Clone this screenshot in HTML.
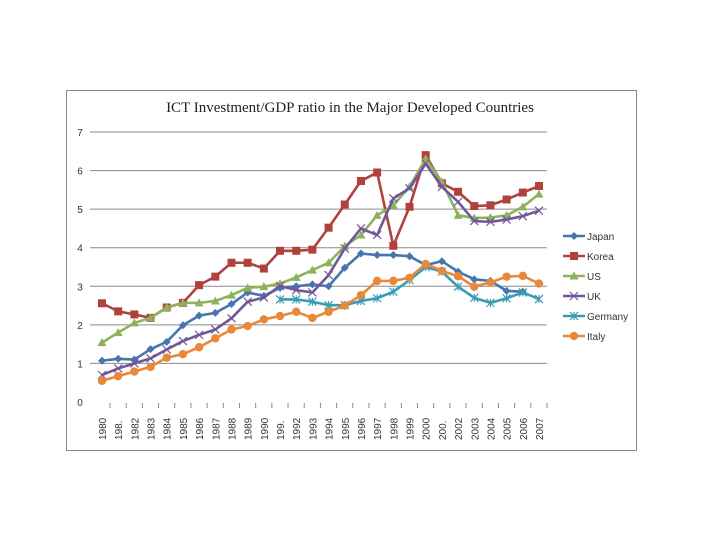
<!DOCTYPE html>
<html><head><meta charset="utf-8"><style>
body{margin:0;background:#fff;}
svg{display:block;font-family:"Liberation Sans",sans-serif;}
</style></head><body>
<svg id="chart" width="720" height="540">
<rect x="66.5" y="90.5" width="570" height="360" fill="#fff" stroke="#888" stroke-width="1"/>
<text x="350" y="112" text-anchor="middle" font-family="Liberation Serif, serif" font-size="15" fill="#222">ICT Investment/GDP ratio in the Major Developed Countries</text>
<g id="grid"></g><g id="axes"></g><g id="series"></g><g id="legend"></g>
</svg>
<script>
const years=[1980,1981,1982,1983,1984,1985,1986,1987,1988,1989,1990,1991,1992,1993,1994,1995,1996,1997,1998,1999,2000,2001,2002,2003,2004,2005,2006,2007];
const yearLabels=["1980","198.","1982","1983","1984","1985","1986","1987","1988","1989","1990","199.","1992","1993","1994","1995","1996","1997","1998","1999","2000","200.","2002","2003","2004","2005","2006","2007"];
const yTicks=[0,1,2,3,4,5,6,7];
const japan=[1.07,1.12,1.1,1.37,1.56,1.99,2.24,2.31,2.54,2.84,2.75,2.96,3.0,3.05,3.0,3.48,3.85,3.81,3.81,3.78,3.55,3.65,3.38,3.18,3.14,2.88,2.86,null];
const korea=[2.56,2.35,2.27,2.18,2.45,2.57,3.03,3.25,3.61,3.61,3.46,3.92,3.92,3.95,4.52,5.12,5.73,5.95,4.05,5.06,6.4,5.67,5.45,5.08,5.1,5.25,5.43,5.6];
const us=[1.54,1.8,2.05,2.18,2.45,2.57,2.57,2.62,2.77,2.96,2.99,3.07,3.23,3.42,3.61,4.04,4.33,4.84,5.1,5.58,6.31,5.71,4.84,4.77,4.78,4.84,5.06,5.39];
const uk=[0.7,0.87,1.0,1.13,1.36,1.58,1.74,1.88,2.17,2.6,2.71,3.01,2.9,2.84,3.29,3.98,4.5,4.33,5.28,5.54,6.18,5.58,5.19,4.69,4.67,4.73,4.82,4.96];
const germany=[null,null,null,null,null,null,null,null,null,null,null,2.66,2.66,2.6,2.51,2.51,2.62,2.69,2.86,3.16,3.5,3.38,2.99,2.7,2.57,2.69,2.84,2.67];
const italy=[0.55,0.67,0.79,0.91,1.15,1.24,1.42,1.65,1.88,1.97,2.14,2.23,2.34,2.18,2.34,2.5,2.77,3.14,3.14,3.22,3.58,3.4,3.26,2.99,3.1,3.25,3.27,3.07];

const NS="http://www.w3.org/2000/svg";
const x0=102,x1=539,yb=402,yt=132;
const xs=i=>x0+(x1-x0)*i/(years.length-1);
const ys=v=>yb-(yb-yt)*v/7;
function mk(tag,attrs,parent){const e=document.createElementNS(NS,tag);for(const k in attrs)e.setAttribute(k,attrs[k]);parent.appendChild(e);return e;}
const grid=document.getElementById('grid'),axes=document.getElementById('axes'),ser=document.getElementById('series'),leg=document.getElementById('legend');
yTicks.forEach(t=>{
  if(t>0){const l=mk('line',{x1:90,x2:547,y1:ys(t),y2:ys(t),stroke:'#8a8a8a','stroke-width':1},grid);
  
  }
  const tx=mk('text',{x:80,y:ys(t)+4,'font-size':10,fill:'#333','text-anchor':'middle'},axes);tx.textContent=t;
  
  
});
years.forEach((y,i)=>{
  const tk=mk('line',{x1:xs(i)+8,x2:xs(i)+8,y1:403,y2:408,stroke:'#888','stroke-width':1},axes);
  
  
  const tx=mk('text',{transform:`translate(${xs(i)+4},440) rotate(-90)`,'font-size':10,fill:'#333'},axes);tx.textContent=yearLabels[i];
  
  
});
function marker(type,x,y,c,g){
  let m;
  if(type==='diamond')m=mk('polygon',{points:`${x},${y-4} ${x+4},${y} ${x},${y+4} ${x-4},${y}`,fill:c},g);
  else if(type==='square')m=mk('rect',{x:x-4,y:y-4,width:8,height:8,fill:c},g);
  else if(type==='triangle')m=mk('polygon',{points:`${x},${y-4.5} ${x+4.5},${y+3.5} ${x-4.5},${y+3.5}`,fill:c},g);
  else if(type==='x')m=mk('path',{d:`M${x-4} ${y-4}L${x+4} ${y+4}M${x-4} ${y+4}L${x+4} ${y-4}`,stroke:c,'stroke-width':1.2},g);
  else if(type==='star')m=mk('path',{d:`M${x-4} ${y-4}L${x+4} ${y+4}M${x-4} ${y+4}L${x+4} ${y-4}M${x} ${y-4}L${x} ${y+4}`,stroke:c,'stroke-width':1.2},g);
  else m=mk('circle',{cx:x,cy:y,r:4.2,fill:c},g);
  return m;
}
const seriesList=[
 ['Japan',japan,'#4a74ad','diamond'],['Korea',korea,'#b0413e','square'],['US',us,'#8db35a','triangle'],
 ['UK',uk,'#71579a','x'],['Germany',germany,'#3a9bb5','star'],['Italy',italy,'#e8883a','circle']];
seriesList.forEach(([name,vals,c,mt],si)=>{
  const g=mk('g',{},ser);
  
  
  let d='',pen=false;
  vals.forEach((v,i)=>{if(v==null){pen=false;return;}d+=(pen?'L':'M')+xs(i)+' '+ys(v);pen=true;});
  const p=mk('path',{d:d,fill:'none',stroke:c,'stroke-width':2.6,'stroke-linejoin':'round'},g);
  
  
  vals.forEach((v,i)=>{if(v==null)return;const m=marker(mt,xs(i),ys(v),c,g);
    
    });
  const ly=236+si*20;
  const lg=mk('g',{},leg);
  
  
  mk('line',{x1:563,x2:585,y1:ly,y2:ly,stroke:c,'stroke-width':2.6},lg);
  marker(mt,574,ly,c,lg);
  const t=mk('text',{x:587,y:ly+4,'font-size':10,fill:'#333'},lg);t.textContent=name;
});
</script>
</body></html>
